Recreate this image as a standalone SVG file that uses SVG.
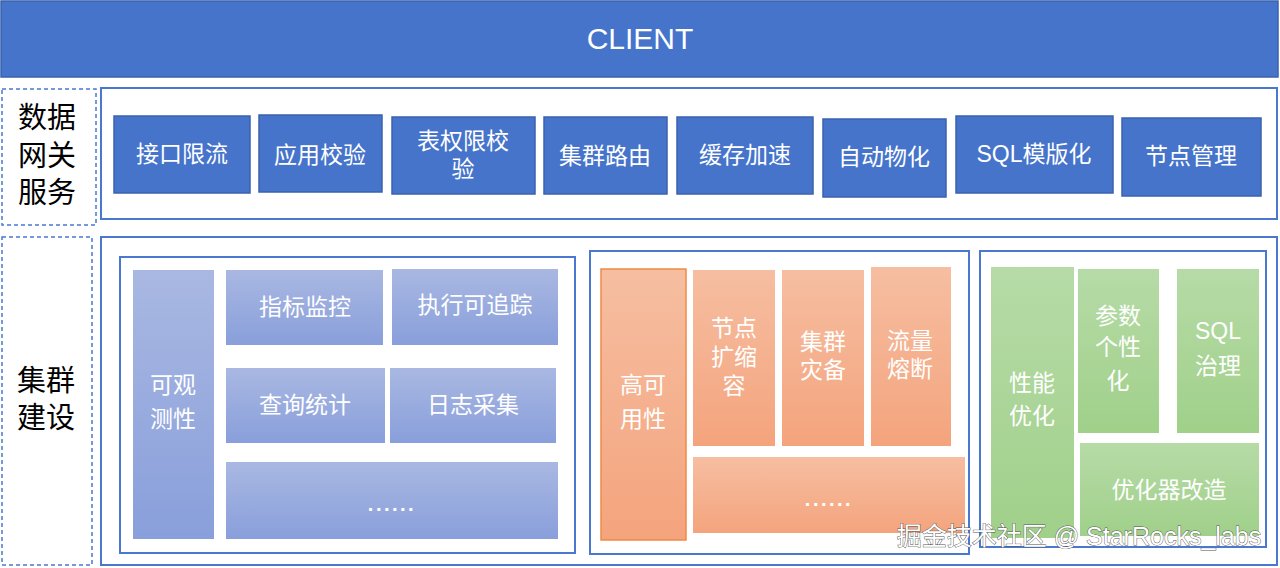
<svg xmlns="http://www.w3.org/2000/svg" width="1280" height="568" viewBox="0 0 1280 568">
<defs>
<linearGradient id="gBlue" x1="0" y1="0" x2="0" y2="1"><stop offset="0" stop-color="#A9B8E2"/><stop offset="1" stop-color="#899FDB"/></linearGradient>
<linearGradient id="gOrange" x1="0" y1="0" x2="0" y2="1"><stop offset="0" stop-color="#F6BEA1"/><stop offset="1" stop-color="#F4A47D"/></linearGradient>
<linearGradient id="gGreen" x1="0" y1="0" x2="0" y2="1"><stop offset="0" stop-color="#B6DBA7"/><stop offset="1" stop-color="#A0D08A"/></linearGradient>
<style>
text{font-family:"Liberation Sans","Noto Sans CJK SC",sans-serif;text-anchor:middle;dominant-baseline:central}
.gw{fill:#4674CB;stroke:#3A62AE;stroke-width:1.5}
.wt{fill:#FFFFFF;font-size:23px}
.dots{fill:#FFFFFF;font-size:20px;font-weight:bold;letter-spacing:2.5px}
.lbl{fill:#000000;font-size:29px}
.dash{fill:#FFFFFF;stroke:#4A78D0;stroke-width:1.5;stroke-dasharray:4 3}
.cont{fill:#FFFFFF;stroke:#4A78D0;stroke-width:2}
.blue{fill:url(#gBlue)}
.orange{fill:url(#gOrange)}
.green{fill:url(#gGreen)}
</style>
</defs>
<rect width="1280" height="568" fill="#FFFFFF"/>

<g id="client">
<rect x="1" y="1" width="1277" height="76" fill="#4674CB" stroke="#3A62AE" stroke-width="1.5"/>
<text x="640" y="38" class="wt" style="font-size:30px">CLIENT</text>
</g>

<g id="gateway-label">
<rect x="2" y="89" width="94" height="136" class="dash"/>
<text x="47" y="118" class="lbl">数据</text>
<text x="47" y="156" class="lbl">网关</text>
<text x="47" y="193" class="lbl">服务</text>
</g>
<g id="gateway">
<rect x="101" y="88" width="1176" height="131" class="cont"/>
</g>
<g id="gw1"><rect x="114" y="116" width="136" height="77" class="gw"/><text x="182" y="154" class="wt">接口限流</text></g>
<g id="gw2"><rect x="259" y="115" width="123" height="77" class="gw"/><text x="320" y="155" class="wt">应用校验</text></g>
<g id="gw3"><rect x="392" y="117" width="143" height="77" class="gw"/><text x="463" y="141" class="wt">表权限校</text><text x="463" y="169" class="wt">验</text></g>
<g id="gw4"><rect x="544" y="117" width="123" height="77" class="gw"/><text x="605" y="156" class="wt">集群路由</text></g>
<g id="gw5"><rect x="677" y="117" width="136" height="77" class="gw"/><text x="745" y="155" class="wt">缓存加速</text></g>
<g id="gw6"><rect x="823" y="119" width="123" height="78" class="gw"/><text x="884" y="157" class="wt">自动物化</text></g>
<g id="gw7"><rect x="956" y="116" width="157" height="77" class="gw"/><text x="1034" y="154" class="wt">SQL模版化</text></g>
<g id="gw8"><rect x="1122" y="118" width="139" height="78" class="gw"/><text x="1191" y="156" class="wt">节点管理</text></g>

<g id="cluster-label">
<rect x="2" y="237" width="90" height="328" class="dash"/>
<text x="46" y="381" class="lbl">集群</text>
<text x="46" y="418" class="lbl">建设</text>
</g>
<g id="cluster">
<rect x="101" y="237" width="1176" height="328" class="cont"/>
</g>

<g id="observability">
<rect x="120" y="257" width="455" height="296" class="cont"/>
<rect x="133" y="270" width="81" height="269" class="blue"/>
<text x="173" y="385" class="wt">可观</text>
<text x="173" y="419" class="wt">测性</text>
</g>
<g id="ob1"><rect x="226" y="270" width="157" height="75" class="blue"/><text x="305" y="307" class="wt">指标监控</text></g>
<g id="ob2"><rect x="392" y="269" width="166" height="76" class="blue"/><text x="475" y="305" class="wt">执行可追踪</text></g>
<g id="ob3"><rect x="226" y="368" width="159" height="75" class="blue"/><text x="305" y="405" class="wt">查询统计</text></g>
<g id="ob4"><rect x="390" y="368" width="166" height="75" class="blue"/><text x="473" y="405" class="wt">日志采集</text></g>
<g id="ob5"><rect x="226" y="462" width="332" height="77" class="blue"/><text x="392" y="504" class="dots">......</text></g>

<g id="availability">
<rect x="590" y="251" width="379" height="303" class="cont"/>
<rect x="601" y="269" width="85" height="271" fill="url(#gOrange)" stroke="#F08A45" stroke-width="1.5"/>
<text x="643" y="385" class="wt">高可</text>
<text x="643" y="419" class="wt">用性</text>
</g>
<g id="ha1"><rect x="693" y="270" width="82" height="176" class="orange"/><text x="734" y="328" class="wt">节点</text><text x="734" y="357" class="wt">扩缩</text><text x="734" y="386" class="wt">容</text></g>
<g id="ha2"><rect x="782" y="270" width="82" height="176" class="orange"/><text x="823" y="342" class="wt">集群</text><text x="823" y="370" class="wt">灾备</text></g>
<g id="ha3"><rect x="871" y="267" width="80" height="179" class="orange"/><text x="910" y="341" class="wt">流量</text><text x="910" y="369" class="wt">熔断</text></g>
<g id="ha4"><rect x="693" y="457" width="272" height="76" class="orange"/><text x="829" y="499" class="dots">......</text></g>

<g id="performance">
<rect x="980" y="251" width="286" height="296" class="cont"/>
<rect x="991" y="267" width="83" height="271" class="green"/>
<text x="1032" y="383" class="wt">性能</text>
<text x="1032" y="416" class="wt">优化</text>
</g>
<g id="pf1"><rect x="1078" y="269" width="81" height="164" class="green"/><text x="1118" y="316" class="wt">参数</text><text x="1118" y="347" class="wt">个性</text><text x="1118" y="381" class="wt">化</text></g>
<g id="pf2"><rect x="1177" y="269" width="82" height="164" class="green"/><text x="1218" y="331" class="wt">SQL</text><text x="1218" y="366" class="wt">治理</text></g>
<g id="pf3"><rect x="1080" y="443" width="179" height="93" class="green"/><text x="1169" y="490" class="wt">优化器改造</text></g>

<g id="connectors"></g>

<g id="watermark">
<text x="1079" y="536" style="font-size:25px;fill:#FFFFFF;stroke:#555555;stroke-width:0.9;paint-order:stroke">掘金技术社区 @ StarRocks_labs</text>
</g>
</svg>
